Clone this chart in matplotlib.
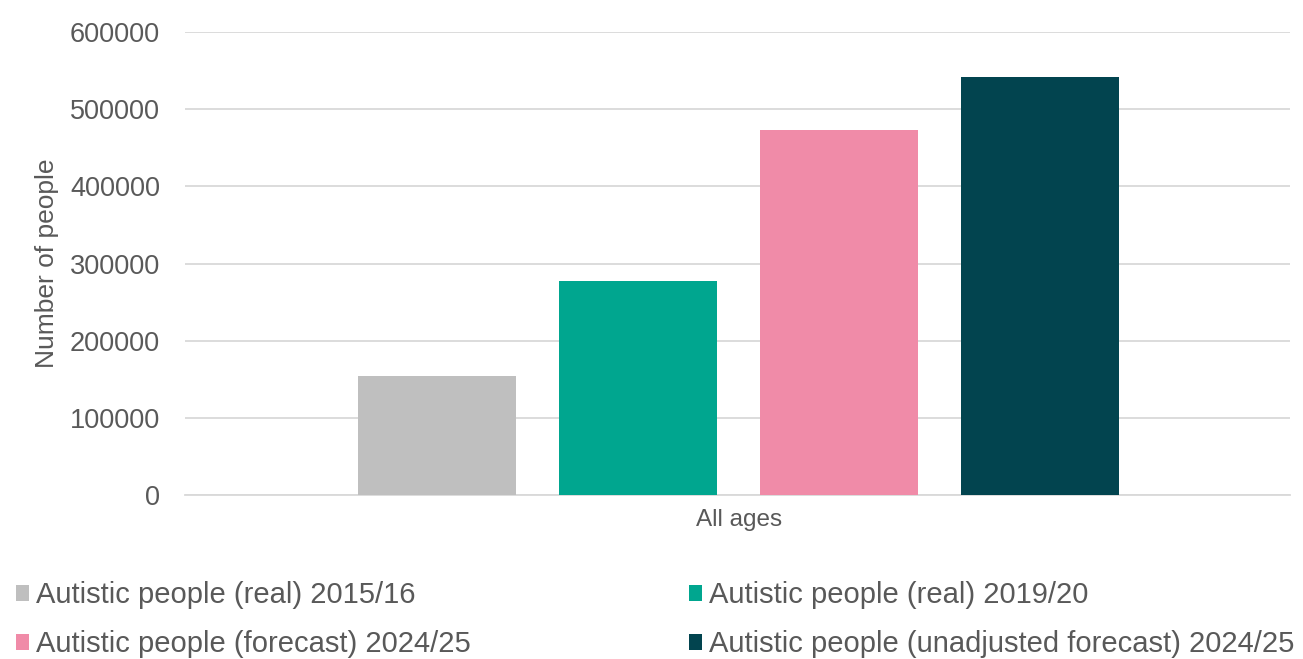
import matplotlib.pyplot as plt
from matplotlib.patches import Patch

plt.rcParams['font.family'] = ['Liberation Sans', 'DejaVu Sans']

category = "All ages"
series = ["Autistic people (real) 2015/16",
          "Autistic people (real) 2019/20",
          "Autistic people (forecast) 2024/25",
          "Autistic people (unadjusted forecast) 2024/25"]
values = [154500, 277500, 473000, 541500]
colors = ["#BFBFBF", "#00A68F", "#F08BA8", "#02444F"]
yticks = [0, 100000, 200000, 300000, 400000, 500000, 600000]

fig = plt.figure(figsize=(13.03, 6.59), dpi=100)
ax = fig.add_axes([0.142, 0.249, 0.848, 0.702])

for i, (v, c) in enumerate(zip(values, colors)):
    ax.bar(i, v, width=0.786, color=c, zorder=3)

ax.set_xlim(-1.254, 4.241)
ax.set_ylim(0, 600000)
ax.set_yticks(yticks)
ax.set_yticklabels([str(t) for t in yticks])
ax.set_xticks([1.5])
ax.set_xticklabels([category])
ax.grid(axis='y', color='#D9D9D9', linewidth=1.3, zorder=0)
for s in ['top', 'right', 'left']:
    ax.spines[s].set_visible(False)
ax.spines['bottom'].set_color('#D9D9D9')
ax.spines['bottom'].set_linewidth(1.3)
ax.tick_params(axis='y', length=0, labelsize=19.5, labelcolor='#595959', pad=18)
ax.tick_params(axis='x', length=0, labelsize=17.5, labelcolor='#595959', pad=10)
ax.set_ylabel("Number of people", fontsize=19, color='#595959', labelpad=8)

# matplotlib fills legend columns first, so order handles to read row by row
order = [0, 2, 1, 3]
handles = [Patch(facecolor=colors[i], label=series[i]) for i in order]
fig.legend(handles=handles, ncol=2, loc='lower left', bbox_to_anchor=(0.008, -0.008),
           frameon=False, fontsize=21, labelcolor='#595959', borderpad=0.2,
           handlelength=0.42, handleheight=0.42, handletextpad=0.25,
           columnspacing=7.5, labelspacing=0.72, borderaxespad=0)

fig.savefig("out.png", dpi=100)
